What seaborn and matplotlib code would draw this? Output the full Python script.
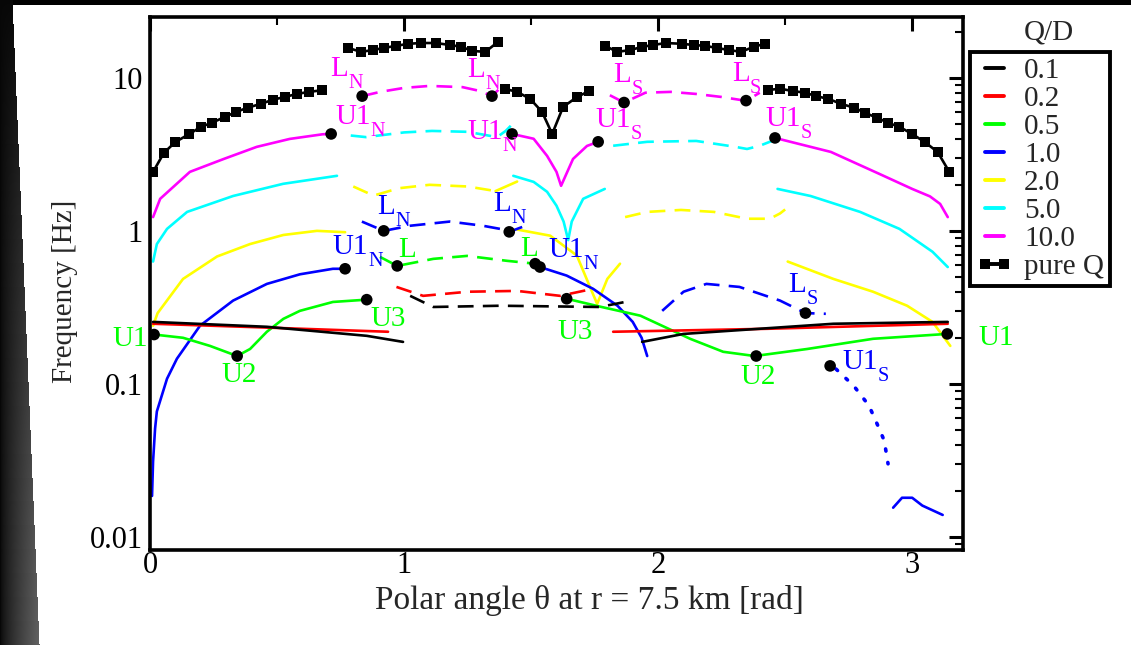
import numpy as np
import matplotlib
matplotlib.use("Agg")
import matplotlib.pyplot as plt
from matplotlib.lines import Line2D
from matplotlib.ticker import MultipleLocator, LogLocator, NullFormatter, FuncFormatter
import seaborn as sns

# ---------------- data (theta [rad], frequency [Hz]) ----------------
# pure Q (black with squares), 5 segments
pq1_x = [0.012, 0.055, 0.10, 0.155, 0.20, 0.245, 0.295, 0.34, 0.386, 0.436, 0.484, 0.53, 0.578, 0.626, 0.677]
pq1_y = [2.43, 3.24, 3.81, 4.3, 4.78, 5.1, 5.56, 6.0, 6.4, 6.76, 7.2, 7.5, 7.85, 8.1, 8.3]
pq2_x = [0.78, 0.83, 0.878, 0.92, 0.97, 1.016, 1.067, 1.126, 1.18, 1.224, 1.268, 1.32, 1.37]
pq2_y = [15.7, 14.8, 15.2, 15.7, 16.2, 16.7, 16.9, 16.9, 16.4, 16.0, 15.0, 14.8, 17.2]
pq3_x = [1.398, 1.445, 1.496, 1.543, 1.583, 1.626, 1.681, 1.728]
pq3_y = [8.47, 8.1, 7.3, 6.0, 4.3, 6.46, 7.5, 8.2]
pq4_x = [1.79, 1.84, 1.89, 1.937, 1.98, 2.03, 2.094, 2.14, 2.185, 2.23, 2.28, 2.326, 2.378, 2.42]
pq4_y = [16.2, 14.8, 15.2, 15.95, 16.4, 16.9, 16.7, 16.4, 16.2, 15.7, 15.2, 14.8, 16.0, 16.7]
pq5_x = [2.433, 2.48, 2.53, 2.58, 2.62, 2.67, 2.72, 2.77, 2.815, 2.86, 2.906, 2.95, 3.0, 3.05, 3.1, 3.146]
pq5_y = [8.33, 8.5, 8.2, 8.0, 7.6, 7.3, 6.76, 6.4, 5.9, 5.5, 5.08, 4.78, 4.3, 3.8, 3.28, 2.43]

# Q/D = 10.0 (magenta)
m1_x = [0.012, 0.04, 0.157, 0.29, 0.42, 0.55, 0.68, 0.713]
m1_y = [1.23, 1.62, 2.43, 2.95, 3.54, 3.99, 4.28, 4.3]
m2_x = [0.835, 0.906, 1.0, 1.10, 1.23, 1.30, 1.346, 1.385]
m2_y = [7.6, 8.1, 8.6, 8.86, 8.7, 8.2, 7.6, 8.8]
m3_x = [1.81, 1.866, 1.95, 2.05, 2.15, 2.25, 2.346, 2.40]
m3_y = [7.7, 6.9, 8.0, 8.1, 7.85, 7.5, 7.08, 8.0]
m4_x = [1.425, 1.51, 1.563, 1.60, 1.618, 1.665, 1.72, 1.764]
m4_y = [4.3, 4.0, 3.09, 2.43, 1.97, 2.95, 3.59, 3.82]
m5_x = [2.46, 2.68, 2.87, 3.0, 3.07, 3.11, 3.14]
m5_y = [4.05, 3.28, 2.36, 1.88, 1.68, 1.5, 1.23]

# Q/D = 5.0 (cyan)
c1_x = [0.012, 0.027, 0.067, 0.146, 0.327, 0.524, 0.736]
c1_y = [0.63, 0.82, 1.03, 1.33, 1.69, 2.03, 2.29]
c2_x = [0.79, 0.85, 1.0, 1.11, 1.25, 1.366, 1.40, 1.42]
c2_y = [4.2, 4.1, 4.4, 4.5, 4.44, 4.1, 4.5, 4.86]
c3_x = [1.43, 1.51, 1.563, 1.60, 1.628, 1.646, 1.66, 1.705, 1.79]
c3_y = [2.29, 2.09, 1.8, 1.46, 1.15, 0.87, 1.15, 1.62, 1.88]
c4_x = [1.823, 1.957, 2.15, 2.30, 2.35, 2.40, 2.47]
c4_y = [3.6, 3.82, 3.87, 3.55, 3.43, 3.6, 4.0]
c5_x = [2.47, 2.6, 2.795, 2.95, 3.08, 3.14]
c5_y = [1.88, 1.69, 1.33, 1.03, 0.73, 0.58]

# Q/D = 2.0 (yellow)
y1_x = [0.012, 0.03, 0.13, 0.264, 0.394, 0.525, 0.657, 0.768]
y1_y = [0.24, 0.29, 0.485, 0.68, 0.82, 0.94, 1.0, 0.98]
y2_x = [0.80, 0.88, 0.98, 1.1, 1.25, 1.36]
y2_y = [1.95, 1.7, 1.9, 2.0, 1.95, 1.82]
y2s_x = [1.36, 1.445]
y2s_y = [1.82, 2.1]
y3_x = [1.445, 1.575, 1.68, 1.73, 1.76, 1.80, 1.85]
y3_y = [1.02, 0.93, 0.69, 0.437, 0.333, 0.485, 0.61]
y4_x = [1.87, 1.957, 2.09, 2.22, 2.35, 2.44, 2.48, 2.50]
y4_y = [1.23, 1.33, 1.37, 1.33, 1.2, 1.2, 1.3, 1.38]
y5_x = [2.51, 2.69, 2.846, 2.98, 3.08, 3.15]
y5_y = [0.63, 0.485, 0.4, 0.324, 0.254, 0.177]

# Q/D = 1.0 (blue)
b1_x = [0.008, 0.012, 0.02, 0.027, 0.067, 0.106, 0.197, 0.327, 0.46, 0.59, 0.72, 0.768]
b1_y = [0.0185, 0.031, 0.051, 0.066, 0.108, 0.146, 0.24, 0.35, 0.45, 0.52, 0.565, 0.565]
b2_x = [0.834, 0.92, 1.024, 1.18, 1.31, 1.378, 1.414, 1.465]
b2_y = [1.15, 1.0, 1.08, 1.15, 1.08, 1.03, 0.985, 1.06]
b3_x = [1.535, 1.64, 1.744, 1.84, 1.90, 1.935, 1.957]
b3_y = [0.58, 0.51, 0.418, 0.324, 0.254, 0.2, 0.152]
b4_x = [2.016, 2.1, 2.19, 2.32, 2.48, 2.58, 2.66]
b4_y = [0.3, 0.4, 0.45, 0.43, 0.35, 0.29, 0.287]
b5_x = [2.70, 2.77, 2.83, 2.87, 2.89, 2.905]
b5_y = [0.125, 0.097, 0.072, 0.051, 0.0425, 0.03]
b6_x = [2.925, 2.96, 3.0, 3.04, 3.12]
b6_y = [0.0155, 0.018, 0.018, 0.016, 0.0139]

# Q/D = 0.5 (green)
g1_x = [0.016, 0.13, 0.236, 0.343, 0.394, 0.46, 0.525, 0.59, 0.72, 0.853]
g1_y = [0.21, 0.2, 0.177, 0.152, 0.169, 0.219, 0.266, 0.3, 0.343, 0.355]
g2_x = [0.905, 0.973, 1.115, 1.248, 1.405, 1.516]
g2_y = [0.676, 0.59, 0.656, 0.686, 0.637, 0.61]
g3_x = [1.64, 1.77, 1.93, 2.126, 2.256, 2.38, 2.587, 2.846, 3.138]
g3_y = [0.36, 0.32, 0.279, 0.197, 0.162, 0.152, 0.169, 0.197, 0.212]

# Q/D = 0.2 (red)
r1_x = [0.012, 0.5, 0.937]
r1_y = [0.247, 0.232, 0.219]
r2_x = [0.97, 1.075, 1.25, 1.445, 1.614, 1.744]
r2_y = [0.43, 0.376, 0.4, 0.405, 0.376, 0.418]
r3_x = [1.823, 2.43, 3.14]
r3_y = [0.219, 0.229, 0.247]

# Q/D = 0.1 (black)
k1_x = [0.012, 0.46, 0.853, 0.996]
k1_y = [0.254, 0.236, 0.206, 0.188]
k2_x = [1.024, 1.115, 1.378, 1.77, 1.87]
k2_y = [0.376, 0.318, 0.324, 0.318, 0.343]
k3_x = [1.937, 2.1, 2.69, 3.14]
k3_y = [0.188, 0.212, 0.247, 0.254]

# black marker dots
dots_x = [0.713, 0.835, 1.346, 1.425, 1.764, 1.866, 2.346, 2.46,
          0.768, 0.92, 1.414, 1.535, 2.58, 2.677,
          0.016, 0.343, 0.853, 0.973, 1.516, 1.64, 2.386, 3.138]
dots_y = [4.3, 7.6, 7.6, 4.3, 3.82, 6.9, 7.1, 4.05,
          0.565, 1.0, 0.985, 0.58, 0.29, 0.131,
          0.21, 0.152, 0.355, 0.59, 0.61, 0.36, 0.152, 0.212]

# annotations (base text, subscript, left-baseline anchor x, y, colour)
lab_base = ["L", "L", "L", "L", "U1", "U1", "U1", "U1",
            "L", "L", "U1", "U1", "L", "U1",
            "L", "L", "U3", "U3", "U1", "U2", "U2", "U1"]
lab_sub = ["N", "N", "S", "S", "N", "N", "S", "S",
           "N", "N", "N", "N", "S", "S",
           "", "", "", "", "", "", "", ""]
lab_x = [0.709, 1.248, 1.823, 2.291, 0.728, 1.248, 1.752, 2.421,
         0.894, 1.350, 0.717, 1.567, 2.512, 2.724,
         0.976, 1.457, 0.866, 1.602, -0.146, 0.283, 2.323, 3.26]
lab_y = [10.3, 10.15, 9.42, 9.55, 5.0, 3.99, 4.78, 4.86,
         1.29, 1.35, 0.707, 0.676, 0.399, 0.125,
         0.676, 0.687, 0.239, 0.197, 0.177, 0.103, 0.1, 0.18]
lab_col = ["m"] * 8 + ["b"] * 6 + ["g"] * 8

legend_labels = ["0.1", "0.2", "0.5", "1.0", "2.0", "5.0", "10.0", "pure Q"]

# ---------------- style ----------------
sns.set_theme(style="white")
plt.rcParams["font.family"] = ["Liberation Serif", "DejaVu Serif"]

COL = {"k": "#000000", "r": "#ff0000", "g": "#00ff00", "b": "#0000ff",
       "y": "#ffff00", "c": "#00ffff", "m": "#ff00ff"}
LW = 1.9
DASH = (0, (6, 3.5))
DOT = (0, (0.6, 3.2))

W, H = 1131, 645
fig = plt.figure(figsize=(W / 100, H / 100), dpi=100)
fig.patch.set_facecolor("white")

# slide background: black top band and dark gradient strip on the left
bg = fig.add_axes([0, 0, 1, 1], zorder=-10)
img = np.ones((H, W, 3))
img[:5, :, :] = 0.0
for i in range(H):
    f = i / (H - 1)
    w = int(13 + 27 * f)
    ramp = np.linspace(0.0, 1.0, w)
    img[i, :w, :] = (0.03 + 0.35 * f * ramp ** 0.7)[:, None]
bg.imshow(img, aspect="auto", extent=[0, 1, 0, 1], interpolation="nearest")
bg.set_xlim(0, 1)
bg.set_ylim(0, 1)
bg.axis("off")

ax = fig.add_axes([150 / W, 1 - 550 / H, (963 - 150) / W, (550 - 17) / H])
ax.set_yscale("log")


def seg(x, y, c, ls="-", **kw):
    sns.lineplot(x=x, y=y, color=COL[c], linestyle=ls, linewidth=LW, ax=ax,
                 sort=False, estimator=None, legend=False, **kw)


# pure Q
for xs, ys in [(pq1_x, pq1_y), (pq2_x, pq2_y), (pq3_x, pq3_y), (pq4_x, pq4_y), (pq5_x, pq5_y)]:
    sns.lineplot(x=xs, y=ys, color="black", linewidth=LW, marker="s", markersize=6.5,
                 markeredgewidth=0, ax=ax, sort=False, estimator=None, legend=False)

for xs, ys in [(m1_x, m1_y), (m4_x, m4_y), (m5_x, m5_y)]:
    seg(xs, ys, "m")
for xs, ys in [(m2_x, m2_y), (m3_x, m3_y)]:
    seg(xs, ys, "m", DASH)

for xs, ys in [(c1_x, c1_y), (c3_x, c3_y), (c5_x, c5_y)]:
    seg(xs, ys, "c")
for xs, ys in [(c2_x, c2_y), (c4_x, c4_y)]:
    seg(xs, ys, "c", DASH)

for xs, ys in [(y1_x, y1_y), (y2s_x, y2s_y), (y3_x, y3_y), (y5_x, y5_y)]:
    seg(xs, ys, "y")
for xs, ys in [(y2_x, y2_y), (y4_x, y4_y)]:
    seg(xs, ys, "y", DASH)

for xs, ys in [(b1_x, b1_y), (b3_x, b3_y), (b6_x, b6_y)]:
    seg(xs, ys, "b")
for xs, ys in [(b2_x, b2_y), (b4_x, b4_y)]:
    seg(xs, ys, "b", DASH)
sns.lineplot(x=b5_x, y=b5_y, color=COL["b"], linestyle=DOT, linewidth=2.6, ax=ax,
             sort=False, estimator=None, legend=False, dash_capstyle="round")

for xs, ys in [(g1_x, g1_y), (g3_x, g3_y)]:
    seg(xs, ys, "g")
seg(g2_x, g2_y, "g", DASH)

for xs, ys in [(r1_x, r1_y), (r3_x, r3_y)]:
    seg(xs, ys, "r")
seg(r2_x, r2_y, "r", DASH)

for xs, ys in [(k1_x, k1_y), (k3_x, k3_y)]:
    seg(xs, ys, "k")
seg(k2_x, k2_y, "k", DASH)

sns.scatterplot(x=dots_x, y=dots_y, color="black", s=70, edgecolor="none",
                ax=ax, legend=False, zorder=6)

# axes
ax.set_xlim(0, 3.2)
ax.set_ylim(0.0082, 25)
ax.xaxis.set_major_locator(MultipleLocator(1))
ax.xaxis.set_minor_locator(MultipleLocator(0.5))
ax.yaxis.set_major_locator(LogLocator(base=10, numticks=10))
ax.yaxis.set_minor_locator(LogLocator(base=10, subs=np.arange(2, 10), numticks=50))
ax.yaxis.set_minor_formatter(NullFormatter())
ax.yaxis.set_major_formatter(FuncFormatter(lambda v, p: "%g" % v))
ax.tick_params(which="both", direction="in", top=True, right=True, colors="black",
               labelsize=22)
ax.tick_params(which="major", length=10, width=2.2)
ax.tick_params(which="minor", length=6, width=1.5)
ax.tick_params(axis="y", which="major", pad=5)
ax.tick_params(axis="x", which="major", pad=0.5)
for s in ax.spines.values():
    s.set_linewidth(2.6)
    s.set_color("black")
ax.grid(False)
ax.set_facecolor("white")

ax.set_xlabel("Polar angle θ at r = 7.5 km [rad]", fontsize=24, va="top")
ax.xaxis.set_label_coords(0.541, -(585 - 550) / 533)
ax.set_ylabel("Frequency [Hz]", fontsize=21, va="center")
ax.yaxis.set_label_coords(-0.105, 0.486)

# curve annotations with dropped subscripts
renderer = fig.canvas.get_renderer()
for base, sub, x, y, c in zip(lab_base, lab_sub, lab_x, lab_y, lab_col):
    t = ax.text(x, y, base, color=COL[c], fontsize=21, ha="left", va="baseline", zorder=7)
    if sub:
        w = t.get_window_extent(renderer).width * 72 / fig.dpi
        ax.annotate(sub, xy=(x, y), xycoords="data", xytext=(w + 0.2, -8.8),
                    textcoords="offset points", fontsize=14.5, color=COL[c],
                    ha="left", va="baseline", zorder=7)

# legend
leg_colors = [COL[k] for k in ["k", "r", "g", "b", "y", "c", "m"]]
handles = [Line2D([0], [0], color=c, lw=2.8) for c in leg_colors]
handles.append(Line2D([0], [0], color="black", lw=2.8, marker="s", markersize=7.5,
                      markeredgewidth=0))
leg = ax.legend(handles=handles, labels=legend_labels, loc="upper left",
                bbox_to_anchor=(970 / W, 1 - 52 / H), bbox_transform=fig.transFigure,
                borderaxespad=0, fontsize=21, labelspacing=0.055, handlelength=1.27,
                handletextpad=0.38, borderpad=0.2, fancybox=False, framealpha=1,
                edgecolor="black", numpoints=2)
leg.get_frame().set_linewidth(2.8)
fig.text(1049 / W, 1 - 33 / H, "Q/D", fontsize=21, ha="center", va="center")

fig.savefig("out.png", dpi=100)
